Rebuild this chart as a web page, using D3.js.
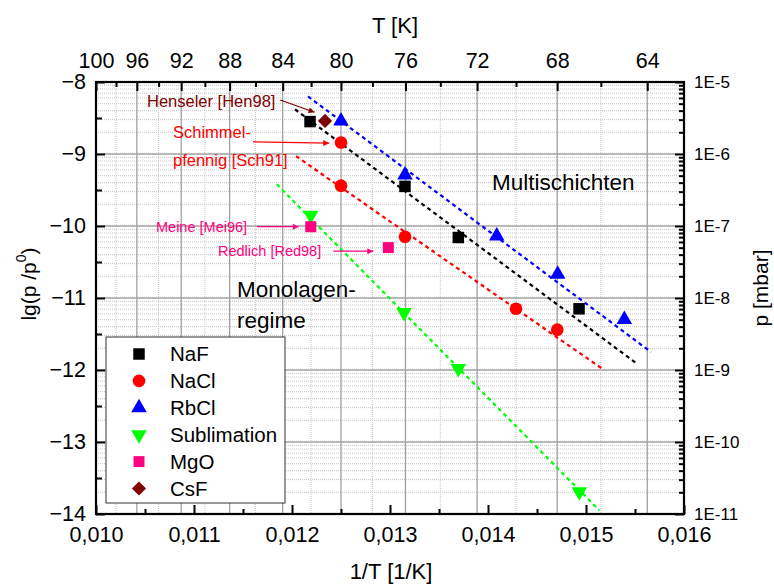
<!DOCTYPE html>
<html>
<head>
<meta charset="utf-8">
<script src="https://cdn.jsdelivr.net/npm/d3@7"></script>
<style>
  html, body { margin: 0; padding: 0; background: #fff; }
  svg text { font-family: Arial, "Liberation Sans", sans-serif; }
</style>
</head>
<body>
<svg id="chart" width="774" height="584"></svg>
<script>
// ---------------- data (x = 1/T in 1/K, y = lg(p/p0)) ----------------
const seriesNames = ["NaF", "NaCl", "RbCl", "Sublimation", "MgO", "CsF"];
const seriesColors = ["#000000", "#ff0000", "#0000ff", "#00ff00", "#ff0080", "#800000"];
const seriesSymbols = ["square", "circle", "triangle", "triangleDown", "squareSmall", "diamond"];

const nafX  = [0.012184, 0.013153, 0.013697, 0.014929];
const nafY  = [-8.55, -9.45, -10.16, -11.15];
const naclX = [0.0125, 0.0125, 0.013153, 0.014286, 0.014707];
const naclY = [-8.84, -9.44, -10.15, -11.15, -11.44];
const rbclX = [0.0125, 0.013153, 0.014089, 0.014711, 0.015391];
const rbclY = [-8.54, -9.29, -10.14, -10.67, -11.30];
const sublX = [0.012191, 0.013143, 0.013697, 0.014932];
const sublY = [-9.85, -11.20, -11.98, -13.69];
const mgoX  = [0.012191, 0.012983];
const mgoY  = [-10.01, -10.30];
const csfX  = [0.012337];
const csfY  = [-8.54];

// dashed fit lines: [x start, x end], [y start, y end]
const fitNafX  = [0.012031, 0.015517]; const fitNafY  = [-8.38, -11.91];
const fitNaclX = [0.012041, 0.015184]; const fitNaclY = [-9.03, -12.00];
const fitRbclX = [0.012163, 0.015663]; const fitRbclY = [-8.20, -11.75];
const fitSublX = [0.011844, 0.015136]; const fitSublY = [-9.42, -13.95];

// axes ticks
const xTicks = [0.010, 0.011, 0.012, 0.013, 0.014, 0.015, 0.016];
const xMinorTicks = [0.0105, 0.0115, 0.0125, 0.0135, 0.0145, 0.0155];
const tMajor = [100, 96, 92, 88, 84, 80, 76, 72, 68, 64];
const tMinor = [98, 94, 90, 86, 82, 78, 74, 70, 66];
const yTicks = [-8, -9, -10, -11, -12, -13, -14];
const yMinorTicks = [-8.5, -9.5, -10.5, -11.5, -12.5, -13.5];
const pDecades = [1e-5, 1e-6, 1e-7, 1e-8, 1e-9, 1e-10, 1e-11];
const pLabels = ["1E-5", "1E-6", "1E-7", "1E-8", "1E-9", "1E-10", "1E-11"];

// annotations
const annotations = [
  {lines: ["Henseler [Hen98]"], color: "#800000", size: 16.5, x: 147, y: [107],
   arrow: [0.011880, -8.25, 0.012230, -8.42]},
  {lines: ["Schimmel-", "pfennig [Sch91]"], color: "#ff0000", size: 16.5, x: 173, y: [138, 166],
   arrow: [0.011604, -8.83, 0.012380, -8.85]},
  {lines: ["Meine [Mei96]"], color: "#ff0080", size: 14.5, x: 156, y: [232],
   arrow: [0.011643, -10.01, 0.012070, -10.01]},
  {lines: ["Redlich [Red98]"], color: "#ff0080", size: 14.5, x: 218, y: [256],
   arrow: [0.012422, -10.35, 0.012830, -10.35]}
];
const regionLabels = [
  {lines: ["Multischichten"], x: 492, y: [190]},
  {lines: ["Monolagen-", "regime"], x: 237, y: [297, 328]}
];

// ---------------- layout ----------------
const L = 96, R = 684, T = 82, B = 514;
const svg = d3.select("#chart");
const x = d3.scaleLinear().domain([0.010, 0.016]).range([L, R]);
const y = d3.scaleLinear().domain([-14, -8]).range([B, T]);
const yp = d3.scaleLog().domain([1e-11, 1e-5]).range([B, T]);

// ---------------- grid ----------------
const grid = svg.append("g");
const pMinor = yp.ticks().filter(v => !pDecades.some(d => Math.abs(v / d - 1) < 1e-6));
grid.selectAll(".hminor").data(pMinor).join("line")
  .attr("x1", L).attr("x2", R).attr("y1", d => yp(d)).attr("y2", d => yp(d))
  .attr("stroke", "#c4c4c4").attr("stroke-width", 1).attr("stroke-dasharray", "1,1");
grid.selectAll(".vminor").data(tMinor).join("line")
  .attr("y1", T).attr("y2", B).attr("x1", d => x(1 / d)).attr("x2", d => x(1 / d))
  .attr("stroke", "#c4c4c4").attr("stroke-width", 1).attr("stroke-dasharray", "1,1");
grid.selectAll(".hmajor").data(yTicks).join("line")
  .attr("x1", L).attr("x2", R).attr("y1", d => y(d)).attr("y2", d => y(d))
  .attr("stroke", "#a0a0a0").attr("stroke-width", 1.3);
grid.selectAll(".vmajor").data(tMajor).join("line")
  .attr("y1", T).attr("y2", B).attr("x1", d => x(1 / d)).attr("x2", d => x(1 / d))
  .attr("stroke", "#a0a0a0").attr("stroke-width", 1.3);

// ---------------- fit lines ----------------
const fits = [
  [fitNafX, fitNafY, seriesColors[0]],
  [fitNaclX, fitNaclY, seriesColors[1]],
  [fitRbclX, fitRbclY, seriesColors[2]],
  [fitSublX, fitSublY, seriesColors[3]]
];
const lineGen = d3.line().x(d => x(d[0])).y(d => y(d[1]));
fits.forEach(([fx, fy, c]) => {
  svg.append("path")
    .attr("d", lineGen(fx.map((v, i) => [v, fy[i]])))
    .attr("fill", "none").attr("stroke", c).attr("stroke-width", 2.2)
    .attr("stroke-dasharray", "4,3.5");
});

// ---------------- markers ----------------
function symbolPath(kind) {
  switch (kind) {
    case "square": return d3.symbol(d3.symbolSquare, 132)();
    case "squareSmall": return d3.symbol(d3.symbolSquare, 120)();
    case "circle": return d3.symbol(d3.symbolCircle, 125)();
    case "triangle": return d3.symbol(d3.symbolTriangle, 105)();
    case "triangleDown": return d3.symbol(d3.symbolTriangle, 105)();
    case "diamond": return d3.symbol(d3.symbolSquare, 100)();
  }
}
function symbolRot(kind) {
  if (kind === "triangleDown") return 180;
  if (kind === "diamond") return 45;
  return 0;
}
const allX = [nafX, naclX, rbclX, sublX, mgoX, csfX];
const allY = [nafY, naclY, rbclY, sublY, mgoY, csfY];
allX.forEach((xs, si) => {
  const pts = xs.map((v, i) => [v, allY[si][i]]);
  svg.append("g").selectAll("path").data(pts).join("path")
    .attr("d", symbolPath(seriesSymbols[si]))
    .attr("transform", d => `translate(${x(d[0])},${y(d[1])}) rotate(${symbolRot(seriesSymbols[si])})`)
    .attr("fill", seriesColors[si]);
});

// ---------------- annotations ----------------
const defs = svg.append("defs");
annotations.forEach((a, i) => {
  defs.append("marker").attr("id", "ah" + i)
    .attr("viewBox", "0 0 10 10").attr("refX", 10).attr("refY", 5)
    .attr("markerWidth", 11).attr("markerHeight", 6).attr("markerUnits", "userSpaceOnUse")
    .attr("orient", "auto")
    .append("path").attr("d", "M0,0 L10,5 L0,10 Z").attr("fill", a.color);
  a.lines.forEach((t, j) => {
    svg.append("text").attr("x", a.x).attr("y", a.y[j])
      .attr("font-size", a.size).attr("fill", a.color).text(t);
  });
  svg.append("line")
    .attr("x1", x(a.arrow[0])).attr("y1", y(a.arrow[1]))
    .attr("x2", x(a.arrow[2])).attr("y2", y(a.arrow[3]))
    .attr("stroke", a.color).attr("stroke-width", 1.3)
    .attr("marker-end", `url(#ah${i})`);
});
regionLabels.forEach(r => {
  r.lines.forEach((t, j) => {
    svg.append("text").attr("x", r.x).attr("y", r.y[j])
      .attr("font-size", 22.5).attr("fill", "#000").text(t);
  });
});

// ---------------- legend ----------------
const lg = svg.append("g");
lg.append("rect").attr("x", 106).attr("y", 337).attr("width", 179).attr("height", 166)
  .attr("fill", "#fff").attr("stroke", "#333").attr("stroke-width", 1);
seriesNames.forEach((n, i) => {
  const cy = 354 + i * 26.9;
  lg.append("path").attr("d", symbolPath(seriesSymbols[i]))
    .attr("transform", `translate(139,${cy}) rotate(${symbolRot(seriesSymbols[i])})`)
    .attr("fill", seriesColors[i]);
  lg.append("text").attr("x", 170).attr("y", cy).attr("dy", "0.36em")
    .attr("font-size", 20.5).attr("fill", "#000").text(n);
});

// ---------------- axes ----------------
const fmtComma = d => d3.format(".3f")(d).replace(".", ",");
function styleAxis(g, fontSize) {
  g.select(".domain").remove();
  g.selectAll(".tick line").attr("stroke", "#000").attr("stroke-width", 2);
  g.selectAll(".tick text").attr("font-size", fontSize).attr("fill", "#000")
    .attr("font-family", "Arial, 'Liberation Sans', sans-serif");
}
// bottom
svg.append("g").attr("transform", `translate(0,${B})`)
  .call(d3.axisBottom(x).tickValues(xMinorTicks).tickFormat("").tickSizeInner(-5).tickSizeOuter(0))
  .call(g => styleAxis(g, 0));
svg.append("g").attr("transform", `translate(0,${B})`)
  .call(d3.axisBottom(x).tickValues(xTicks).tickFormat(fmtComma).tickSizeInner(-9).tickSizeOuter(0).tickPadding(13))
  .call(g => styleAxis(g, 21.5));
// top (temperature)
svg.append("g").attr("transform", `translate(0,${T})`)
  .call(d3.axisTop(x).tickValues(tMinor.map(t => 1 / t)).tickFormat("").tickSizeInner(-5).tickSizeOuter(0))
  .call(g => styleAxis(g, 0));
svg.append("g").attr("transform", `translate(0,${T})`)
  .call(d3.axisTop(x).tickValues(tMajor.map(t => 1 / t)).tickFormat(v => String(Math.round(1 / v)))
    .tickSizeInner(-9).tickSizeOuter(0).tickPadding(14))
  .call(g => styleAxis(g, 21.5));
// left
svg.append("g").attr("transform", `translate(${L},0)`)
  .call(d3.axisLeft(y).tickValues(yMinorTicks).tickFormat("").tickSizeInner(-6).tickSizeOuter(0))
  .call(g => styleAxis(g, 0));
svg.append("g").attr("transform", `translate(${L},0)`)
  .call(d3.axisLeft(y).tickValues(yTicks).tickFormat(d3.format("d")).tickSizeInner(-9).tickSizeOuter(0).tickPadding(10))
  .call(g => styleAxis(g, 21.5));
// right (pressure)
svg.append("g").attr("transform", `translate(${R},0)`)
  .call(d3.axisRight(yp).tickValues(pMinor).tickFormat("").tickSizeInner(-5).tickSizeOuter(0))
  .call(g => styleAxis(g, 0));
svg.append("g").attr("transform", `translate(${R},0)`)
  .call(d3.axisRight(yp).tickValues(pDecades).tickFormat((d, i) => pLabels[i]).tickSizeInner(-9).tickSizeOuter(0).tickPadding(10))
  .call(g => styleAxis(g, 17));

// frame
svg.append("rect").attr("x", L).attr("y", T).attr("width", R - L).attr("height", B - T)
  .attr("fill", "none").attr("stroke", "#000").attr("stroke-width", 2.2);

// axis titles
svg.append("text").attr("x", 395).attr("y", 33).attr("text-anchor", "middle")
  .attr("font-size", 22).text("T [K]");
svg.append("text").attr("x", 391).attr("y", 579).attr("text-anchor", "middle")
  .attr("font-size", 22).text("1/T [1/K]");
const yl = svg.append("text").attr("transform", "translate(36,284) rotate(-90)")
  .attr("text-anchor", "middle").attr("font-size", 21);
yl.append("tspan").text("lg(p /p");
yl.append("tspan").attr("font-size", 14).attr("dy", "-0.7em").text("0");
yl.append("tspan").attr("dy", "0.45em").text(")");
svg.append("text").attr("transform", "translate(768,288) rotate(-90)")
  .attr("text-anchor", "middle").attr("font-size", 21).text("p [mbar]");
</script>
</body>
</html>
